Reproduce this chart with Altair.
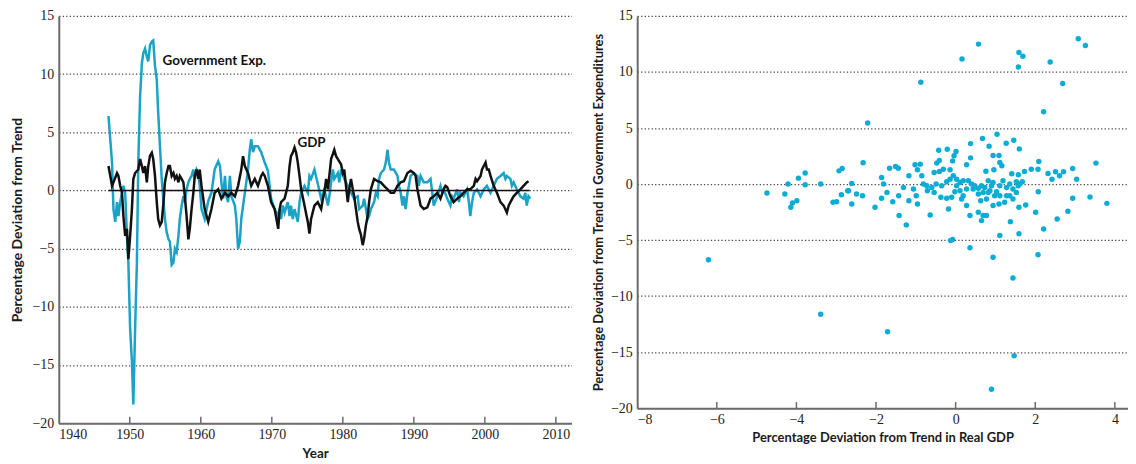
import altair as alt
import pandas as pd

# ---------------- data ----------------
gdp_year = [1947.0, 1947.5, 1947.7, 1948.2, 1948.4, 1948.65, 1948.9, 1949.1, 1949.35, 1949.6,
            1949.8, 1950.05, 1950.3, 1950.5, 1950.75, 1951.2, 1951.45, 1951.7, 1951.9, 1952.15,
            1952.4, 1952.6, 1952.85, 1953.1, 1953.3, 1953.55, 1953.8, 1954.0, 1954.25, 1954.5,
            1954.75, 1954.95, 1955.2, 1955.45, 1955.65, 1955.9, 1956.15, 1956.35, 1956.6, 1956.85,
            1957.05, 1957.3, 1957.55, 1957.75, 1958.0, 1958.25, 1958.45, 1958.7, 1958.95, 1959.15,
            1959.4, 1959.65, 1959.85, 1960.1, 1960.55, 1961.05, 1961.5, 1961.95, 1962.45, 1962.9,
            1963.4, 1963.85, 1964.3, 1964.8, 1965.25, 1965.7, 1965.95, 1966.2, 1966.65, 1967.1,
            1967.6, 1968.05, 1968.5, 1968.75, 1969.0, 1969.45, 1969.9, 1970.4, 1970.9, 1971.1,
            1971.3, 1971.8, 1972.25, 1972.5, 1972.7, 1972.95, 1973.2, 1973.43, 1973.66, 1973.9,
            1974.13, 1974.6, 1975.07, 1975.3, 1975.53, 1976.0, 1976.47, 1976.95, 1977.2, 1977.4,
            1977.65, 1977.9, 1978.1, 1978.35, 1978.8, 1979.05, 1979.3, 1979.75, 1980.0, 1980.2,
            1980.45, 1980.7, 1980.9, 1981.15, 1981.4, 1981.6, 1981.85, 1982.1, 1982.3, 1982.55,
            1982.8, 1983.0, 1983.25, 1983.5, 1983.7, 1983.95, 1984.4, 1984.9, 1985.35, 1985.8,
            1986.3, 1986.75, 1987.2, 1987.7, 1988.15, 1988.6, 1989.1, 1989.55, 1990.0, 1990.25,
            1990.5, 1990.95, 1991.4, 1991.9, 1992.35, 1992.8, 1993.3, 1993.75, 1994.2, 1994.45,
            1994.7, 1995.15, 1995.6, 1996.1, 1996.55, 1997.0, 1997.5, 1997.95, 1998.45, 1998.7,
            1998.9, 1999.4, 1999.6, 1999.85, 2000.1, 2000.3, 2000.55, 2000.8, 2001.25, 2001.7,
            2002.2, 2002.65, 2003.1, 2003.35, 2003.6, 2004.05, 2004.5, 2005.0, 2005.45, 2005.9,
            2006.15]
gdp_dev = [2.1, 0.4, 0.7, 1.5, 1.25, 0.4, -0.2, -2.2, -3.9, -3.3,
           -5.9, -3.9, -1.6, 1.0, 1.5, 1.8, 2.7, 2.1, 1.5, 2.1,
           0.7, 2.1, 3.0, 3.25, 2.7, 1.25, -1.0, -2.45, -3.0, -2.7,
           -1.0, 0.7, 1.5, 2.1, 2.1, 1.25, 1.5, 1.0, 1.25, 0.7,
           1.25, 1.0, 0.7, -0.5, -2.2, -4.2, -3.3, -1.6, -0.2, 1.25,
           1.8, 1.0, 1.8, 0.4, -1.6, -2.7, -1.6, -0.2, 0.1, -0.7,
           -0.2, -0.5, -0.2, -0.5, 0.4, 1.8, 2.95, 2.1, 1.5, 0.4,
           1.0, 0.4, 1.25, 1.5, 1.25, 0.4, -1.0, -1.6, -3.3, -1.6,
           -1.0, -0.7, 0.4, 2.1, 2.95, 3.25, 3.7, 3.25, 2.4, 1.25,
           0.1, -1.3, -2.7, -3.7, -2.45, -1.3, -1.0, -1.6, -0.7, -0.2,
           1.0, 0.1, 1.25, 2.7, 3.5, 2.95, 2.7, 2.25, 1.5, 1.8,
           0.4, -1.0, 0.1, 1.0, 0.1, -0.5, -1.6, -2.7, -3.3, -3.8,
           -4.7, -4.1, -3.0, -2.2, -1.0, 0.1, 1.0, 0.8, 0.7, 0.4,
           0.1, -0.2, -0.2, 0.4, 0.7, 0.8, 1.5, 1.7, 1.5, 1.25,
           0.1, -1.3, -1.6, -1.45, -0.7, -0.5, -0.2, -0.7, 0.1, 0.4,
           0.3, -0.5, -1.0, -0.7, -0.5, -0.2, 0.1, 0.1, 0.4, 1.0,
           0.8, 1.25, 1.8, 2.1, 2.4, 1.8, 1.8, 1.25, 0.4, -0.2,
           -1.0, -1.3, -1.9, -1.3, -1.0, -0.5, -0.2, 0.1, 0.4, 0.7,
           0.8]

gov_year = [1947.0, 1947.5, 1947.7, 1947.95, 1948.2, 1948.4, 1948.65, 1948.9, 1949.1, 1949.35,
            1949.6, 1949.8, 1950.05, 1950.3, 1950.5, 1950.75, 1951.0, 1951.2, 1951.45, 1951.7,
            1951.9, 1952.15, 1952.4, 1952.6, 1952.85, 1953.1, 1953.3, 1953.55, 1953.8, 1954.0,
            1954.25, 1954.5, 1954.75, 1954.95, 1955.2, 1955.45, 1955.65, 1955.9, 1956.15, 1956.35,
            1956.6, 1956.85, 1957.05, 1957.3, 1957.55, 1957.75, 1958.0, 1958.25, 1958.45, 1958.7,
            1958.95, 1959.15, 1959.4, 1959.65, 1959.85, 1960.1, 1960.55, 1961.05, 1961.5, 1961.95,
            1962.45, 1962.7, 1962.9, 1963.15, 1963.4, 1963.6, 1963.85, 1964.1, 1964.3, 1964.8,
            1965.0, 1965.25, 1965.5, 1965.7, 1966.2, 1966.65, 1966.9, 1967.1, 1967.35, 1967.6,
            1968.05, 1968.5, 1969.0, 1969.45, 1969.7, 1969.9, 1970.4, 1970.85, 1971.1, 1971.3,
            1971.55, 1971.8, 1972.25, 1972.5, 1972.7, 1972.95, 1973.2, 1973.66, 1973.9, 1974.13,
            1974.6, 1975.07, 1975.3, 1975.53, 1976.0, 1976.47, 1976.95, 1977.4, 1977.9, 1978.1,
            1978.35, 1978.6, 1978.8, 1979.3, 1979.5, 1979.75, 1980.2, 1980.7, 1981.15, 1981.6,
            1982.1, 1982.3, 1982.8, 1983.0, 1983.5, 1983.7, 1983.95, 1984.4, 1984.65, 1984.9,
            1985.1, 1985.35, 1985.8, 1986.05, 1986.3, 1986.5, 1986.75, 1987.2, 1987.7, 1987.9,
            1988.15, 1988.4, 1988.6, 1988.85, 1989.1, 1989.3, 1989.55, 1990.0, 1990.5, 1990.7,
            1990.95, 1991.4, 1991.9, 1992.35, 1992.6, 1992.8, 1993.3, 1993.75, 1994.0, 1994.2,
            1994.7, 1995.15, 1995.4, 1995.6, 1996.1, 1996.35, 1996.55, 1997.0, 1997.5, 1997.75,
            1997.95, 1998.2, 1998.45, 1998.9, 1999.4, 1999.85, 2000.3, 2000.8, 2001.25, 2001.7,
            2002.2, 2002.65, 2002.9, 2003.1, 2003.6, 2003.8, 2004.05, 2004.5, 2005.0, 2005.45,
            2005.7, 2005.9, 2006.15, 2006.4]
gov_dev = [6.4, 2.4, -1.6, -2.7, -1.0, -2.2, -1.0, -0.2, 0.4, -0.2,
           -3.9, -6.2, -11.9, -14.7, -18.4, -11.9, -6.2, 2.4, 8.1, 10.9,
           11.8, 12.2, 11.5, 11.1, 12.5, 12.8, 12.9, 10.7, 9.5, 6.7,
           3.8, 1.0, -1.0, -2.45, -3.6, -4.2, -4.4, -6.4, -6.2, -5.0,
           -5.3, -3.9, -2.45, -1.3, -0.5, -1.0, 0.1, 0.7, 1.0, 1.25,
           1.8, 1.0, 1.8, 1.5, 0.4, -1.6, -2.45, -0.9, -0.2, 1.8,
           2.5, 2.1, 0.7, -0.7, 1.25, -0.5, -1.0, 1.25, -0.5, -1.3,
           -2.45, -5.0, -4.4, -2.45, -0.2, 1.8, 3.5, 4.4, 3.3, 3.8,
           3.8, 3.3, 2.4, 1.7, 0.4, -0.7, -1.6, -2.2, -1.6, -2.45,
           -1.3, -1.9, -1.0, -2.2, -1.3, -2.45, -1.6, -2.7, -1.0, -0.2,
           0.4, -0.2, 1.25, 1.0, 1.8, 0.6, -0.7, 0.1, -1.3, -0.5,
           0.7, 1.8, 1.0, 1.5, 0.7, 1.8, 1.0, 0.4, -0.2, -0.7,
           -0.5, -1.6, -1.3, -0.7, -2.45, -2.2, -1.6, -1.0, -0.2, -0.5,
           1.0, 1.5, 1.8, 2.4, 3.5, 2.4, 1.8, 1.8, 1.25, 0.4,
           -0.2, -1.3, -0.5, -1.6, -0.2, 0.4, 1.25, 1.5, 1.25, 0.4,
           1.25, 0.7, 0.7, 1.0, -0.2, -1.3, -0.5, 0.4, -0.2, 0.1,
           -0.7, -1.3, -0.5, -0.7, 0.1, -1.0, -0.2, -0.5, 0.1, -1.0,
           -2.2, -1.0, -0.2, 0.1, -0.5, 0.1, 0.4, -0.2, 0.4, 1.0,
           1.25, 1.5, 1.0, 1.25, 1.0, 0.4, 0.7, 0.1, -0.5, -0.7,
           -0.2, -1.3, -0.5, -0.7]

# scatter: (GDP deviation, Government deviation)
sc_gdp = [3.08, 3.26, 0.575, 0.16, 1.59, 1.69, 1.575, 2.375, -0.875, 2.69,
          2.21, -2.21, 1.04, 0.675, 1.46, 1.27, 0.84, 0.375, 1.6, -0.425,
          -0.21, 0.01, -0.04, 0.94, 1.09, 0.375, -0.075, -2.325, 3.525, 2.09,
          1.11, 1.16, 0.275, -0.475, -0.41, -1.02, -0.89, -1.66, -1.51, -1.44,
          -1.86, -1.175, -0.96, -0.85, -0.54, -0.41, -0.31, -0.14, 0.76, 0.96,
          1.41, 1.575, 1.73, 1.9, 2.07, 2.32, 2.51, 2.71, 2.94, 2.42,
          2.61, 3.04, -2.69, -2.61, -2.49, -2.34, -2.61, -2.025, -1.86, -1.81,
          -1.725, -1.58, -1.42, -1.24, -1.43, -1.31, -1.175, -0.96, -0.99, -1.06,
          -0.81, -0.71, -0.54, -0.64, -0.37, -0.18, -0.1, 0.025, 0.11, 0.15,
          0.275, 0.36, 0.275, 0.44, 0.57, 0.63, 0.57, 0.69, 0.65, 0.775,
          0.82, 0.9, 0.98, 0.94, 1.09, 1.11, 1.23, 1.36, 1.375, 1.44,
          1.525, 1.57, 1.59, 1.59, 1.76, 2.01, 2.075, 2.21, 2.55, 2.82,
          2.94, 3.375, 3.8, -0.725, -0.6, -0.49, -0.35, -0.225, -0.14, -0.06,
          0.025, 0.11, 0.19, 0.32, 0.4, 0.48, 0.57, 0.65, 0.73, 0.82,
          0.86, 0.94, 1.03, 1.11, 1.19, 1.28, 1.36, 1.44, 1.525, 1.61,
          1.675, -0.225, -0.02, 0.19, 0.69, 0.775, 1.11, 1.28, -1.71, -0.125,
          -0.075, 0.36, 0.94, 2.07, 1.44, 1.47, 0.9, -6.21, -3.39, -4.74,
          -4.29, -4.21, -4.14, -4.1, -3.99, -3.95, -3.78, -3.78, -3.39, -3.08,
          -2.99, -2.93, -2.85, -2.87, -2.71]
sc_gov = [12.97, 12.37, 12.49, 11.16, 11.75, 11.4, 10.45, 10.89, 9.09, 8.97,
          6.45, 5.45, 4.44, 4.06, 3.91, 3.64, 3.37, 3.61, 3.14, 3.02,
          3.11, 2.9, 2.52, 2.55, 2.55, 2.34, 2.07, 1.9, 1.87, 2.01,
          1.92, 1.63, 1.72, 1.87, 2.1, 1.72, 1.78, 1.42, 1.57, 1.42,
          0.59, 0.74, 1.27, 0.74, 1.04, 1.12, 1.33, 1.27, 1.15, 1.27,
          0.92, 0.83, 1.12, 1.33, 1.33, 0.95, 1.1, 1.1, 1.39, 0.44,
          0.74, 0.44, -0.59, 0.06, -0.89, -1.04, -1.78, -2.07, -1.27, 0.0,
          -0.74, -1.57, -2.81, -3.64, -1.04, -0.3, -1.48, -1.78, -1.04, -0.44,
          0.0, -0.59, -0.74, -2.75, -1.18, -2.22, -1.18, -0.15, -0.59, -1.33,
          -1.92, -2.81, -0.44, -0.44, -0.89, -1.48, -2.52, -2.81, -3.26, -2.81,
          -0.74, -0.15, -1.04, -1.92, -1.78, -4.59, -1.63, -1.04, -3.35, -1.33,
          -0.74, -0.15, -2.07, -4.44, -1.86, -2.52, -0.68, -4.0, -3.11, -2.43,
          -1.27, -1.15, -1.72, -0.15, -0.3, 0.0, -0.15, 0.21, 0.44, 0.74,
          0.44, 0.15, 0.3, 0.3, 0.0, -0.15, -0.38, -0.15, -0.3, 0.3,
          -0.59, 0.15, -0.68, -0.15, 0.3, -0.3, 0.0, -0.44, 0.21, 0.0,
          0.21, -1.27, -0.68, -1.04, -0.74, -1.33, -1.04, -1.04, -13.18, -5.04,
          -4.95, -5.69, -6.52, -6.31, -8.38, -15.31, -18.3, -6.75, -11.61, -0.8,
          -0.89, 0.0, -2.07, -1.69, -1.48, 0.53, 0.98, -0.06, 0.0, -1.63,
          -1.57, 1.18, 1.39, -0.95, -0.59]

y_ticks = [-20, -15, -10, -5, 0, 5, 10, 15]
year_labels = [1940, 1950, 1960, 1970, 1980, 1990, 2000, 2010]
year_ticks = [1950, 1960, 1970, 1980, 1990, 2000, 2010]
gdp_labels = [-8, -6, -4, -2, 0, 2, 4]
gdp_ticks = [-6, -4, -2, 0, 2, 4]
series_labels = ["Government Exp.", "GDP"]
label_year = [1954.6, 1973.6]
label_val = [11.15, 4.1]
zero_span = [1947.0, 2006.3]

# ---------------- styling ----------------
CYAN_LINE = "#1aa3c6"
CYAN_DOT = "#0badd4"
AXIS_GREY = "#6b6b6b"
GRID = "#4a4a4a"
SERIF = "Liberation Serif"
SANS = "Lato"

gdp_df = pd.DataFrame({"year": gdp_year, "dev": gdp_dev})
gov_df = pd.DataFrame({"year": gov_year, "dev": gov_dev})
lab_df = pd.DataFrame({"label": series_labels, "year": label_year, "dev": label_val})
zero_df = pd.DataFrame({"a": [zero_span[0]], "b": [zero_span[1]], "y": [0]})
ytick_df = pd.DataFrame({"t": year_ticks})
sc_df = pd.DataFrame({"gdp": sc_gdp, "gov": sc_gov})
xtick_df = pd.DataFrame({"t": gdp_ticks})


def y_axis(title, title_size, title_pad):
    return alt.Axis(values=y_ticks, grid=True, gridDash=[1.3, 2.2], gridColor=GRID,
                    gridWidth=1.3, ticks=False, domainColor=AXIS_GREY, domainWidth=2,
                    labelFont=SERIF, labelFontSize=14, labelColor="#222",
                    labelPadding=5, title=title, titleFont=SANS, titleFontWeight="bold",
                    titleFontSize=title_size, titleColor="#1a1a1a", titlePadding=title_pad)


def x_axis(values, title, title_size, fmt):
    return alt.Axis(values=values, grid=False, ticks=False, domainColor=AXIS_GREY,
                    domainWidth=2, labelFont=SERIF, labelFontSize=14, labelColor="#222",
                    labelPadding=4, format=fmt, title=title, titleFont=SANS,
                    titleFontWeight="bold", titleFontSize=title_size, titleColor="#1a1a1a",
                    titlePadding=5)


xl = alt.X("year:Q", scale=alt.Scale(domain=[1940, 2012.2], nice=False, zero=False),
           axis=x_axis(year_labels, "Year", 13.5, "d"))
yl = alt.Y("dev:Q", scale=alt.Scale(domain=[-20, 15], nice=False),
           axis=y_axis("Percentage Deviation from Trend", 14, 8))

gov_line = alt.Chart(gov_df).mark_line(color=CYAN_LINE, strokeWidth=2.5).encode(
    x=xl, y=yl, order="year:Q")
gdp_line = alt.Chart(gdp_df).mark_line(color="#111111", strokeWidth=2.5).encode(
    x="year:Q", y="dev:Q", order="year:Q")
zero_rule = alt.Chart(zero_df).mark_rule(color="#111111", strokeWidth=1.5).encode(
    x="a:Q", x2="b:Q", y="y:Q")
left_ticks = alt.Chart(ytick_df).mark_rule(color=AXIS_GREY, strokeWidth=1.5).encode(
    x="t:Q", y=alt.datum(-20), y2=alt.datum(-19.45))
labels = alt.Chart(lab_df).mark_text(align="left", baseline="middle", font=SANS,
                                     fontWeight="bold", fontSize=13.5, color="#111").encode(
    x="year:Q", y="dev:Q", text="label:N")

left = alt.layer(gov_line, zero_rule, gdp_line, left_ticks, labels).properties(
    width=515, height=409)

xr = alt.X("gdp:Q", scale=alt.Scale(domain=[-8, 4.33], nice=False, zero=False),
           axis=x_axis(gdp_labels, "Percentage Deviation from Trend in Real GDP", 13, "d"))
yr = alt.Y("gov:Q", scale=alt.Scale(domain=[-20, 15], nice=False),
           axis=y_axis("Percentage Deviation from Trend in Government Expenditures", 13, 5))

dots = alt.Chart(sc_df).mark_circle(color=CYAN_DOT, opacity=1, size=30).encode(x=xr, y=yr)
right_ticks = alt.Chart(xtick_df).mark_rule(color=AXIS_GREY, strokeWidth=1.5).encode(
    x="t:Q", y=alt.datum(-20), y2=alt.datum(-19.45))

right = alt.layer(dots, right_ticks).properties(width=493, height=394)

chart = alt.hconcat(left, right, spacing=21).properties(
    padding={"left": 2, "top": 0, "right": 0, "bottom": 0},
    background="white",
).configure_view(stroke=None)

chart.save("out.html", embed_options={"renderer": "svg", "actions": False})
